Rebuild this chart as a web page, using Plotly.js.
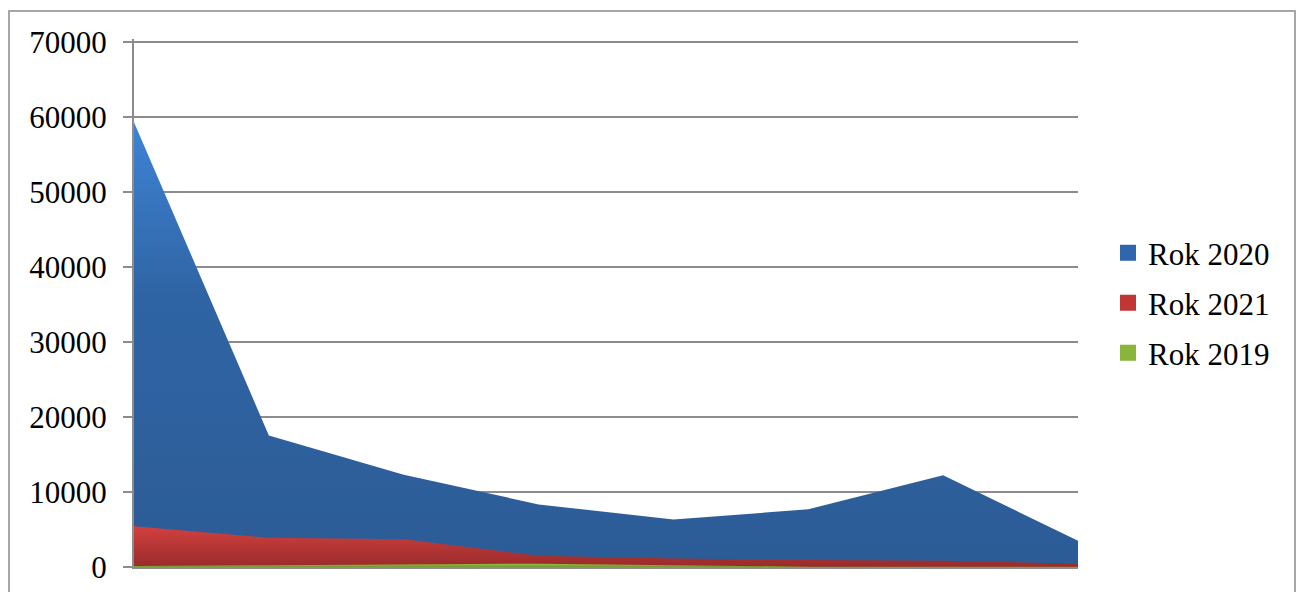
<!DOCTYPE html>
<html>
<head>
<meta charset="utf-8">
<script src="https://cdn.plot.ly/plotly-3.0.1.min.js"></script>
<style>
html,body{margin:0;padding:0;background:#fff;}
#chart{width:1302px;height:592px;}
</style>
</head>
<body>
<div id="chart"></div>
<script>
// Categories (x labels are not visible in the reference)
var categories = ["1", "2", "3", "4", "5", "6", "7", "8"];
var seriesNames = ["Rok 2020", "Rok 2021", "Rok 2019"];
var rok2020 = [59300, 17550, 12300, 8350, 6320, 7700, 12230, 3500];
var rok2021 = [5450, 3900, 3700, 1500, 1150, 950, 850, 450];
var rok2019 = [120, 250, 350, 450, 250, 50, 30, 20];
var yTicks = [0, 10000, 20000, 30000, 40000, 50000, 60000, 70000];

var fontFam = "Liberation Serif, Times New Roman, serif";
var yMax = 70400;

function area(name, y, cscale, stop) {
  return {
    type: "scatter", mode: "none", name: name, x: categories, y: y,
    fill: "tozeroy", showlegend: false, hoverinfo: "skip",
    fillgradient: {type: "vertical", start: 0, stop: stop, colorscale: cscale},
    fillcolor: cscale[cscale.length - 1][1]
  };
}
function proxy(name, color, leg) {
  return {
    type: "scatter", mode: "markers", name: name, x: [null], y: [null],
    legend: leg, showlegend: true, hoverinfo: "skip",
    marker: {symbol: "square", size: 16, color: color}
  };
}

var data = [
  area(seriesNames[0], rok2020, [[0, "#2c5c96"], [0.6, "#2f64a4"], [1, "#3f84d6"]], 60000),
  area(seriesNames[1], rok2021, [[0, "#992b2b"], [1, "#d2413f"]], 5500),
  area(seriesNames[2], rok2019, [[0, "#6f9a2c"], [1, "#9bc446"]], 500),
  proxy(seriesNames[0], "#2f66ad", "legend"),
  proxy(seriesNames[1], "#bf3634", "legend2"),
  proxy(seriesNames[2], "#8ab43a", "legend3")
];

var H = 524.7 * yMax / 70000, W = 944;
var T = 566.7 - H;
function legendAt(ypx) {
  return {
    x: (1108 - 134) / W, xanchor: "left",
    y: 1 - (ypx - T) / H, yanchor: "middle",
    font: {family: fontFam, size: 31, color: "#000"},
    bgcolor: "rgba(0,0,0,0)", borderwidth: 0
  };
}

var layout = {
  width: 1302, height: 592,
  margin: {l: 134, r: 224, t: T, b: 592 - 566.7, pad: 0},
  paper_bgcolor: "#fff", plot_bgcolor: "#fff",
  font: {family: fontFam, size: 31, color: "#000"},
  hovermode: false,
  xaxis: {
    type: "category", range: [0, 7], showticklabels: false, ticks: "",
    showgrid: false, zeroline: false, showline: true, linecolor: "#8c8c8c", linewidth: 2,
    fixedrange: true
  },
  yaxis: {
    range: [0, yMax], tickvals: yTicks, ticktext: yTicks.map(String),
    ticks: "outside", ticklen: 9, tickwidth: 2, tickcolor: "#8c8c8c",
    ticklabelstandoff: 10,
    showgrid: true, gridcolor: "#8c8c8c", gridwidth: 2,
    zeroline: false, showline: true, linecolor: "#8c8c8c", linewidth: 2,
    tickfont: {family: fontFam, size: 31, color: "#000"},
    fixedrange: true
  },
  legend: legendAt(253),
  legend2: legendAt(303),
  legend3: legendAt(353),
  shapes: [{
    type: "rect", xref: "paper", yref: "paper", layer: "above",
    x0: (9 - 134) / W, x1: (1295 - 134) / W,
    y0: 1 - (600 - T) / H, y1: 1 - (11 - T) / H,
    line: {color: "#a6a6a6", width: 2}, fillcolor: "rgba(0,0,0,0)"
  }]
};

Plotly.newPlot("chart", data, layout, {staticPlot: true, displayModeBar: false});
</script>
</body>
</html>
